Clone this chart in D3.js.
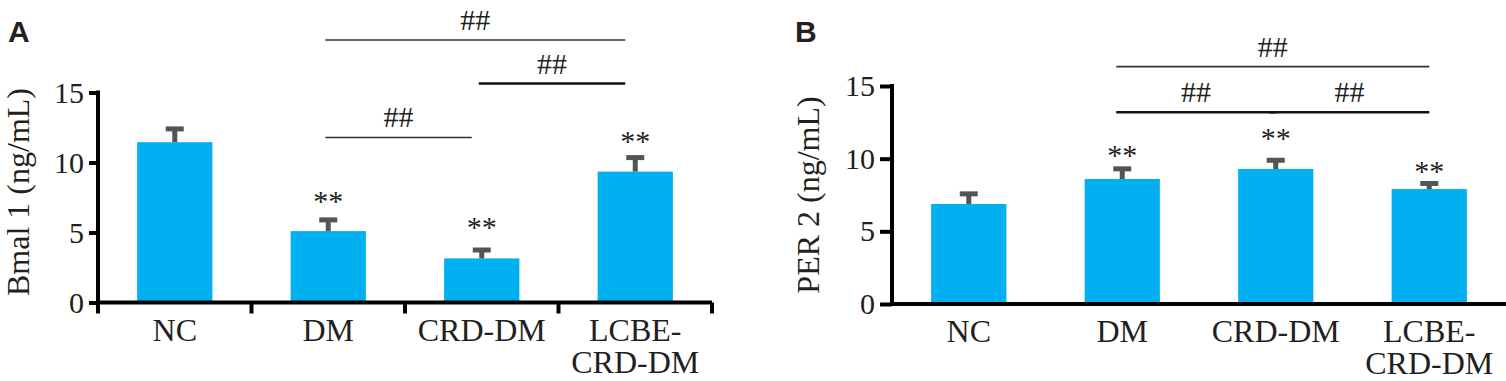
<!DOCTYPE html>
<html>
<head>
<meta charset="utf-8">
<script src="https://cdn.jsdelivr.net/npm/d3@7"></script>
<style>
  html, body { margin: 0; padding: 0; background: #fff; }
  svg { display: block; }
  text { font-family: "Liberation Serif", "Times New Roman", serif; fill: #231f20; }
</style>
</head>
<body>
<svg id="chart" width="1506" height="381"></svg>
<script>
// ---- data ----
const categories = ["NC", "DM", "CRD-DM", "LCBE-CRD-DM"];
const categoryLines = [["NC"], ["DM"], ["CRD-DM"], ["LCBE-", "CRD-DM"]];
const yTicks = [0, 5, 10, 15];

const bmalMean = [11.45, 5.1, 3.15, 9.35];
const bmalSD   = [0.95, 0.8, 0.6, 1.0];
const bmalStars = [null, 6.57, 4.71, 10.79];          // star label level (ng/mL)
const bmalBrackets = [
  { from: "DM", to: "LCBE-CRD-DM", level: 18.75, label: "##", weight: 1.6 },
  { from: "CRD-DM", to: "LCBE-CRD-DM", level: 15.64, label: "##", weight: 2.6 },
  { from: "DM", to: "CRD-DM", level: 11.79, label: "##", weight: 1.6 }
];

const perMean = [6.88, 8.6, 9.29, 7.91];
const perSD   = [0.7, 0.7, 0.6, 0.38];
const perStars = [null, 9.57, 10.74, 8.47];
const perBrackets = [
  { from: "DM", to: "LCBE-CRD-DM", level: 16.33, label: "##", weight: 1.6 },
  { from: "DM", to: "CRD-DM", level: 13.19, label: "##", weight: 2.6 },
  { from: "CRD-DM", to: "LCBE-CRD-DM", level: 13.19, label: "##", weight: 2.6 }
];

const svg = d3.select("#chart");
const barColor = "#00b0f0";
const errColor = "#545454";

function drawPanel(o) {
  const g = svg.append("g");
  const x = d3.scaleBand().domain(categories).range([o.x0, o.x1])
              .paddingInner(0.51).paddingOuter(0.255);
  const y = d3.scaleLinear().domain([0, 15]).range([o.y0, o.y1]);

  // bars
  g.selectAll("rect.bar").data(categories).join("rect")
    .attr("class", "bar")
    .attr("x", d => x(d))
    .attr("width", x.bandwidth())
    .attr("y", (d, i) => y(o.mean[i]))
    .attr("height", (d, i) => y(0) - y(o.mean[i]))
    .attr("fill", barColor);

  // error bars
  const cx = d => x(d) + x.bandwidth() / 2;
  g.selectAll("line.stem").data(categories).join("line")
    .attr("x1", cx).attr("x2", cx)
    .attr("y1", (d, i) => y(o.mean[i]))
    .attr("y2", (d, i) => y(o.mean[i] + o.sd[i]))
    .attr("stroke", errColor).attr("stroke-width", 5);
  g.selectAll("line.cap").data(categories).join("line")
    .attr("x1", d => cx(d) - 9).attr("x2", d => cx(d) + 9)
    .attr("y1", (d, i) => y(o.mean[i] + o.sd[i]))
    .attr("y2", (d, i) => y(o.mean[i] + o.sd[i]))
    .attr("stroke", errColor).attr("stroke-width", 5);

  // stars
  g.selectAll("text.star").data(categories.filter((d, i) => o.stars[i] != null)).join("text")
    .attr("x", cx)
    .attr("y", d => y(o.stars[categories.indexOf(d)]))
    .attr("text-anchor", "middle")
    .attr("font-size", 30)
    .text("**");

  // brackets
  o.brackets.forEach(b => {
    const xa = cx(b.from) + o.bOff[0], xb = cx(b.to) + o.bOff[1];
    g.append("line")
      .attr("x1", xa).attr("x2", xb)
      .attr("y1", y(b.level)).attr("y2", y(b.level))
      .attr("stroke", b.weight > 2 ? "#111" : "#333")
      .attr("stroke-width", b.weight);
    g.append("text")
      .attr("x", (xa + xb) / 2)
      .attr("y", y(b.level) - 10)
      .attr("text-anchor", "middle")
      .attr("font-size", 30)
      .text(b.label);
  });

  // y axis
  const ya = g.append("g").attr("transform", `translate(${o.x0},0)`)
    .call(d3.axisLeft(y).tickValues(yTicks).tickSize(o.tick).tickSizeOuter(0).tickPadding(5));
  ya.select(".domain").attr("stroke", "#000").attr("stroke-width", 4)
    .attr("d", `M0,${o.yAxisBottom}V${y(15) - 2}`);
  ya.selectAll(".tick line").attr("stroke", "#000").attr("stroke-width", 4);
  ya.selectAll(".tick text").attr("font-size", 30)
    .style("font-family", '"Liberation Serif", serif').attr("fill", "#231f20");

  // x axis
  const xa = g.append("g").attr("transform", `translate(0,${o.y0})`)
    .call(d3.axisBottom(x).tickSize(0).tickSizeOuter(0).tickPadding(0));
  xa.select(".domain").attr("stroke", "#000").attr("stroke-width", 4)
    .attr("d", `M${o.x0 - 2},0H${o.x1}`);
  xa.selectAll(".tick text").each(function(d, i) {
    const t = d3.select(this);
    t.text(null).attr("dy", null).attr("y", 0)
      .attr("font-size", 32)
      .style("font-family", '"Liberation Serif", serif').attr("fill", "#231f20");
    categoryLines[i].forEach((ln, k) => {
      t.append("tspan").attr("x", 0).attr("y", 38 + k * 32).text(ln);
    });
  });
  if (o.boundaryTicks) {
    const bounds = d3.range(categories.length + 1).map(i => o.x0 + i * x.step());
    xa.selectAll("line.btick").data(bounds).join("line")
      .attr("x1", d => d).attr("x2", d => d)
      .attr("y1", 0).attr("y2", 11)
      .attr("stroke", "#000").attr("stroke-width", 4);
  }

  // y title
  g.append("text")
    .attr("transform", `translate(${o.titleX},${o.titleY}) rotate(-90)`)
    .attr("text-anchor", "middle")
    .attr("font-size", 32)
    .text(o.title);

  // panel letter
  g.append("text")
    .attr("x", o.letterX).attr("y", 42)
    .style("font-family", '"Liberation Sans", Arial, sans-serif')
    .attr("font-weight", "bold")
    .attr("font-size", 30)
    .attr("fill", "#231f20")
    .text(o.letter);
}

drawPanel({
  x0: 98, x1: 712, y0: 302.5, y1: 92.5,
  mean: bmalMean, sd: bmalSD, stars: bmalStars, brackets: bmalBrackets,
  bOff: [-3, -10], tick: 9, yAxisBottom: 302, boundaryTicks: true,
  title: "Bmal 1 (ng/mL)", titleX: 29, titleY: 192,
  letter: "A", letterX: 8
});

drawPanel({
  x0: 892, x1: 1506, y0: 304, y1: 86,
  mean: perMean, sd: perSD, stars: perStars, brackets: perBrackets,
  bOff: [-6, 0], tick: 12, yAxisBottom: 304, boundaryTicks: false,
  title: "PER 2 (ng/mL)", titleX: 819, titleY: 195,
  letter: "B", letterX: 795
});
</script>
</body>
</html>
